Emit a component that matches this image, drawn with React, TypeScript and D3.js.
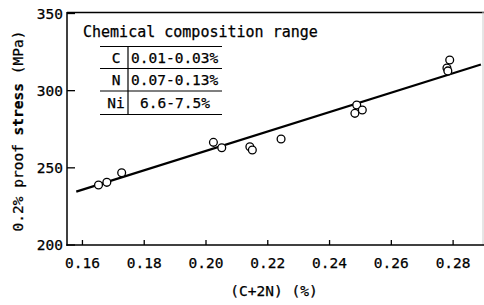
import React from "react";
import * as d3 from "d3";

const W = 484;
const H = 305;

const carbonNitrogen = [0.1652, 0.1679, 0.1727, 0.2024, 0.2051, 0.2142, 0.215, 0.2243, 0.2488, 0.2482, 0.2506, 0.2789, 0.278, 0.2783];
const proofStress = [238.9, 240.6, 246.8, 266.5, 263.0, 263.7, 261.6, 268.7, 290.7, 285.3, 287.5, 319.9, 314.7, 312.8];
const fitX = [0.158, 0.289];
const fitY = [234.6, 317.0];
const xTicks = [0.16, 0.18, 0.2, 0.22, 0.24, 0.26, 0.28];
const yTicks = [200, 250, 300, 350];
const tableElements = ["C", "N", "Ni"];
const tableRanges = ["0.01-0.03%", "0.07-0.13%", "6.6-7.5%"];

const FONT = "'DejaVu Sans Mono', 'Liberation Mono', monospace";
const TS = { stroke: "#000", strokeWidth: 0.25 };

export default function App() {
  const left = 67;
  const right = 484;
  const top = 13.5;
  const bottom = 245;
  const x = d3.scaleLinear().domain([0.155, 0.29]).range([left, right]);
  const y = d3.scaleLinear().domain([200, 350]).range([bottom, top]);
  const line = d3
    .line<number>()
    .x((d) => x(d))
    .y((_, i) => y(fitY[i]));

  const rowLines = [46.5, 68.5, 91, 114.5];
  const tLeft = 100;
  const tDiv = 128;
  const tRight = 222;

  return (
    <svg
      width={W}
      height={H}
      style={{ position: "absolute", left: 0, top: 0, background: "#fff" }}
      fontFamily={FONT}
    >
      {/* frame */}
      <line x1={left} x2={right} y1={12.5} y2={12.5} stroke="#000" strokeWidth={1.5} />
      <line x1={483} x2={483} y1={12} y2={bottom} stroke="#ccc" strokeWidth={1} />
      <line x1={left} x2={left} y1={12} y2={bottom + 0.75} stroke="#000" strokeWidth={1.5} />
      <line x1={left - 0.75} x2={right} y1={bottom} y2={bottom} stroke="#000" strokeWidth={1.5} />

      {/* y ticks */}
      {yTicks.map((t) => (
        <g key={"y" + t}>
          <line x1={left} x2={left + 8} y1={y(t)} y2={y(t)} stroke="#000" strokeWidth={1.3} />
          <text x={63} y={y(t) + 5} textAnchor="end" fontSize={14.5} fill="#000" {...TS}>
            {t}
          </text>
        </g>
      ))}

      {/* x ticks */}
      {xTicks.map((t) => (
        <g key={"x" + t}>
          <line x1={x(t)} x2={x(t)} y1={bottom} y2={bottom - 5} stroke="#000" strokeWidth={1.3} />
          <text x={x(t)} y={268} textAnchor="middle" fontSize={14.5} fill="#000" {...TS}>
            {t.toFixed(2)}
          </text>
        </g>
      ))}

      {/* axis titles */}
      <text x={274} y={296} textAnchor="middle" fontSize={14.5} fill="#000" {...TS}>
        (C+2N) (%)
      </text>
      <text
        transform={`translate(23, 131) rotate(-90)`}
        textAnchor="middle"
        fontSize={14.5}
        fill="#000"
        {...TS}
      >
        0.2% proof <tspan fontWeight="bold">stress</tspan> (MPa)
      </text>

      {/* composition table */}
      <text x={83} y={37} fontSize={15} fill="#000" {...TS}>
        Chemical composition range
      </text>
      {rowLines.map((ry, i) => (
        <line key={"r" + i} x1={tLeft} x2={tRight} y1={ry} y2={ry} stroke="#000" strokeWidth={1.2} />
      ))}
      <line x1={tDiv} x2={tDiv} y1={rowLines[0]} y2={rowLines[3]} stroke="#000" strokeWidth={1.2} />
      {tableElements.map((el, i) => {
        const cy = (rowLines[i] + rowLines[i + 1]) / 2 + 5;
        return (
          <g key={el}>
            <text x={(tLeft + tDiv) / 2 + 2} y={cy} textAnchor="middle" fontSize={14.5} fill="#000" {...TS}>
              {el}
            </text>
            <text
              x={i === 2 ? (tDiv + tRight) / 2 : tDiv + 3}
              y={cy}
              textAnchor={i === 2 ? "middle" : "start"}
              fontSize={14.5}
              fill="#000"
              {...TS}
            >
              {tableRanges[i]}
            </text>
          </g>
        );
      })}

      {/* regression line */}
      <path d={line(fitX) || ""} fill="none" stroke="#000" strokeWidth={2.2} />

      {/* data points */}
      {carbonNitrogen.map((cx, i) => (
        <circle
          key={"p" + i}
          cx={x(cx)}
          cy={y(proofStress[i])}
          r={3.9}
          fill="#fff"
          stroke="#000"
          strokeWidth={1.3}
        />
      ))}
    </svg>
  );
}
